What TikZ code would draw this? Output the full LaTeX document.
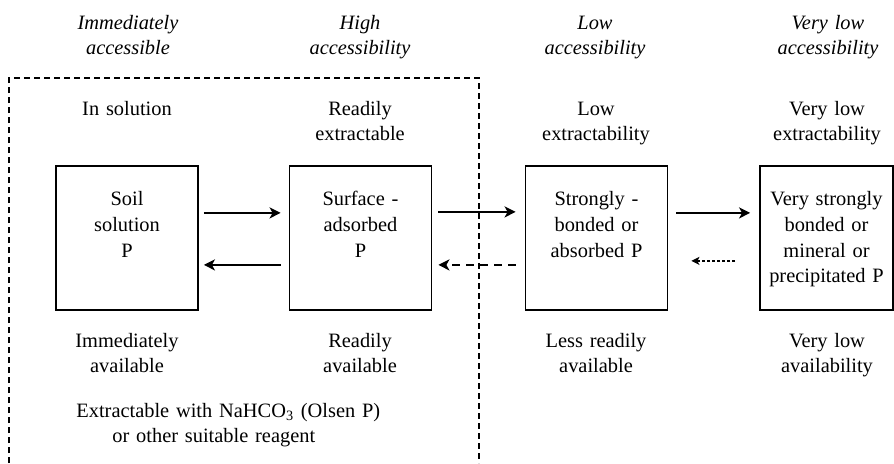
\documentclass[tikz,border=0pt]{standalone}
\usepackage{fontspec}
\setmainfont{Liberation Serif}
\usetikzlibrary{arrows.meta}

\begin{document}
\begin{tikzpicture}[
    x=0.5pt, y=-0.5pt,
    every node/.style={font=\fontsize{10.2}{12.8}\selectfont, align=center, inner sep=0pt},
    txt/.style={anchor=base, text width=110pt},
    head/.style={txt, font=\fontsize{10.2}{12.8}\selectfont\itshape},
    pool/.style={draw, line width=0.9pt, anchor=north, text width=71pt,
      text height=20pt, text depth=52pt},
    flow/.style={line width=1pt, -{Stealth[length=5.5pt,width=5.5pt,inset=1.5pt]}},
    back/.style={flow, dash pattern=on 4pt off 3pt},
    weak/.style={line width=0.6pt, dash pattern=on 1.5pt off 1pt,
      -{Stealth[length=4pt,width=4pt,inset=1pt]}},
    frame/.style={line width=0.8pt, dash pattern=on 3pt off 2pt},
  ]
  \useasboundingbox (0,0) rectangle (894,463);

  % Olsen-extractable frame (open at the bottom)
  \draw[frame] (9,463) -- (9,78) -- (479,78) -- (479,463);

  % Accessibility
  \node[head] (acc1) at (128,29) {Immediately\\accessible};
  \node[head] (acc2) at (360,29) {High\\accessibility};
  \node[head] (acc3) at (595,29) {Low\\accessibility};
  \node[head] (acc4) at (828,29) {Very low\\accessibility};

  % Extractability
  \node[txt] (ext1) at (127,115) {In solution};
  \node[txt] (ext2) at (360,115) {Readily\\extractable};
  \node[txt] (ext3) at (596,115) {Low\\extractability};
  \node[txt] (ext4) at (827,115) {Very low\\extractability};

  % P pools
  \node[pool] (soil) at (127,165) {Soil\\solution\\P};
  \node[pool] (surf) at (360.5,165) {Surface -\\adsorbed\\P};
  \node[pool] (strong) at (596.5,165) {Strongly -\\bonded or\\absorbed P};
  \node[pool, text width=66.5pt] (vstrong) at (826.5,165)
    {Very strongly\\bonded or\\mineral or\\precipitated P};

  % Availability
  \node[txt] (av1) at (127,347) {Immediately\\available};
  \node[txt] (av2) at (360,347) {Readily\\available};
  \node[txt] (av3) at (596,347) {Less readily\\available};
  \node[txt] (av4) at (827,347) {Very low\\availability};

  \node[anchor=base west, align=left, text width=200pt] (olsen) at (76,417)
    {Extractable with NaHCO\textsubscript{3} (Olsen P)\\\hspace{18pt}or other suitable reagent};

  % Transfers between pools
  \draw[flow, shorten <=2.5pt, shorten >=4pt] ([yshift=12.5pt]soil.east) -- ([yshift=12.5pt]surf.west);
  \draw[flow, shorten <=4pt, shorten >=2.5pt] ([yshift=-13.5pt]surf.west) -- ([yshift=-13.5pt]soil.east);
  \draw[flow, shorten <=3pt, shorten >=4.5pt] ([yshift=13pt]surf.east) -- ([yshift=13pt]strong.west);
  \draw[back, shorten <=4.5pt, shorten >=3pt] ([yshift=-13.5pt]strong.west) -- ([yshift=-13.5pt]surf.east);
  \draw[flow, shorten <=4pt, shorten >=4.5pt] ([yshift=12.5pt]strong.east) -- ([yshift=12.5pt]vstrong.west);
  \draw[weak, shorten <=12pt, shorten >=11.5pt] ([yshift=-11.5pt]vstrong.west) -- ([yshift=-11.5pt]strong.east);
\end{tikzpicture}
\end{document}
